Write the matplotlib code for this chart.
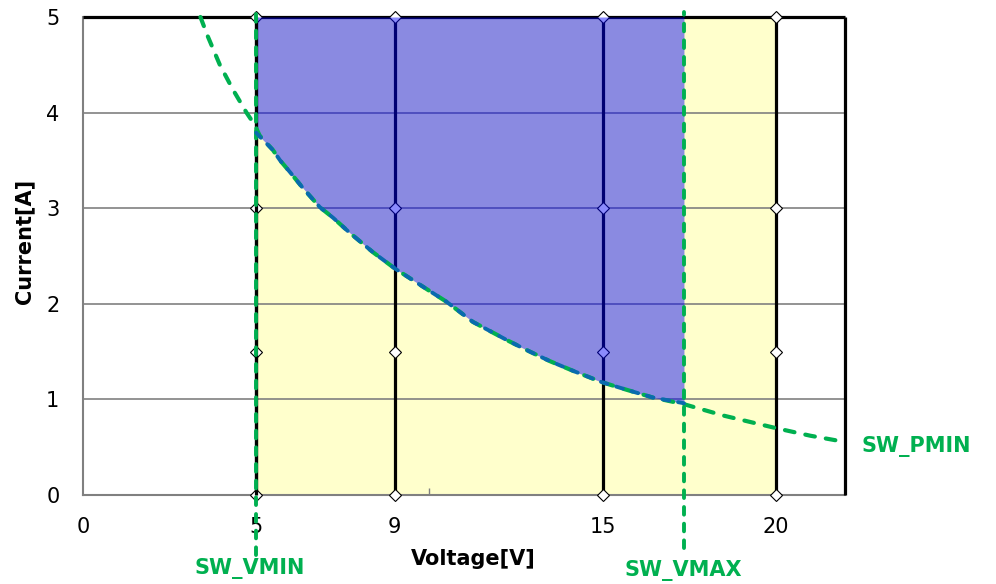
import matplotlib
matplotlib.use("Agg")
import matplotlib.pyplot as plt

# ---- data ----
voltage_ticks = [0, 5, 9, 15, 20]
current_ticks = [0, 1, 2, 3, 4, 5]
x_max = 22
y_max = 5

column_v = [5, 9, 15, 20]            # vertical black lines
marker_i = [0, 1.5, 3, 5]            # diamond marker currents on each line

yellow_v = [5, 20]                   # yellow band

sw_vmin = 5
sw_vmax = 17.35

# boundary of the operating area (blue)
area_v = [5.0, 5.1, 5.48, 5.69, 5.97, 6.35, 6.84, 7.22, 7.71, 8.37, 9.0, 9.81, 10.5,
          11.26, 12.24, 12.9, 13.48, 14.14, 14.98, 15.7, 16.45, 17.35]
area_i = [3.79, 3.75, 3.61, 3.50, 3.38, 3.21, 3.01, 2.90, 2.74, 2.54, 2.37, 2.18, 2.02,
          1.81, 1.62, 1.50, 1.40, 1.30, 1.18, 1.10, 1.02, 0.96]

# SW_PMIN curve (green dashed)
pmin_v = [3.39, 3.6, 3.95, 4.33, 4.72, 4.96, 5.1, 5.48, 5.69, 5.97, 6.35, 6.84, 7.22, 7.71,
          8.37, 9.0, 9.81, 10.5, 11.26, 12.24, 12.9, 13.48, 14.14, 14.98, 15.7, 16.45,
          17.35, 18.5, 20.0, 21.0, 22.0]
pmin_i = [5.0, 4.8, 4.5, 4.24, 4.0, 3.87, 3.76, 3.61, 3.50, 3.38, 3.21, 3.01, 2.90, 2.74,
          2.54, 2.37, 2.18, 2.02, 1.81, 1.62, 1.50, 1.40, 1.30, 1.18, 1.10, 1.02,
          0.95, 0.83, 0.70, 0.62, 0.555]

labels = {"x": "Voltage[V]", "y": "Current[A]",
          "vmin": "SW_VMIN", "vmax": "SW_VMAX", "pmin": "SW_PMIN"}

# ---- style ----
plt.rcParams['font.family'] = ['DejaVu Sans']
plt.rcParams['lines.scale_dashes'] = False
GREEN = '#00B050'
BLUE_DASH = '#0A6AAE'
GRID = '#808080'

fig = plt.figure(figsize=(9.96, 5.84), dpi=100)
ax = fig.add_axes([83/996, 89/584, 762/996, 478/584])
ax.set_xlim(0, x_max)
ax.set_ylim(0, y_max)

# yellow band
ax.axvspan(yellow_v[0], yellow_v[1], ymin=0, ymax=1, color='#FFFFCC', lw=0, zorder=0.5)

# gridlines
for c in current_ticks[1:-1]:
    ax.plot([0, x_max], [c, c], color=GRID, lw=1.2, zorder=1)

# top and right black borders
ax.plot([0, x_max], [y_max, y_max], color='black', lw=2.3, zorder=2, clip_on=False, solid_capstyle='butt')
ax.plot([x_max, x_max], [0, y_max], color='black', lw=2.3, zorder=2, clip_on=False, solid_capstyle='butt')

# vertical black lines with diamond markers
for v in column_v:
    ax.plot([v, v], [0, y_max], color='black', lw=2.3, zorder=2, clip_on=False, solid_capstyle='butt')
    ax.plot([v] * len(marker_i), marker_i, linestyle='none', marker='D', markersize=6.2,
            markerfacecolor='white', markeredgecolor='black', markeredgewidth=0.8,
            zorder=2.2, clip_on=False)

# blue operating area (translucent, over the lines)
ax.fill_between(area_v, area_i, [y_max] * len(area_v), color=(0, 0, 0.99), alpha=0.46, lw=0, zorder=3)
# redraw x=5 line over the area
ax.plot([sw_vmin, sw_vmin], [0, y_max], color='black', lw=2.3, zorder=3.2, clip_on=False, solid_capstyle='butt')

# green dashed curves
ax.plot(pmin_v, pmin_i, color=GREEN, lw=3.0, dashes=(7, 8), dash_capstyle='round',
        zorder=4, clip_on=False)
for v, lo, hi in [(sw_vmin, -0.63, 5.09), (sw_vmax, -0.55, 5.05)]:
    ax.plot([v, v], [lo, hi], color=GREEN, lw=2.8, dashes=(5.5, 6.5), dash_capstyle='round',
            zorder=4.5, clip_on=False)

# blue dashed boundary
ax.plot(area_v, area_i, color=BLUE_DASH, lw=2.8, dashes=(5, 6.5), dash_capstyle='round', zorder=5)

# spines
for s in ['top', 'right']:
    ax.spines[s].set_visible(False)
for s in ['left', 'bottom']:
    ax.spines[s].set_color(GRID)
    ax.spines[s].set_linewidth(1.5)
    ax.spines[s].set_zorder(1.5)

ax.set_xticks(voltage_ticks)
ax.set_yticks(current_ticks)
ax.set_xticks([10], minor=True)
ax.tick_params(axis='both', which='major', length=0, labelsize=15, colors='black')
ax.tick_params(axis='x', which='major', pad=16)
ax.tick_params(axis='y', which='major', pad=17)
ax.tick_params(axis='x', which='minor', direction='in', length=5, width=1, color=GRID)

ax.set_xlabel(labels["x"], fontsize=15, fontweight='bold')
ax.set_ylabel(labels["y"], fontsize=15, fontweight='bold')
ax.xaxis.set_label_coords(0.512, -0.112)
ax.yaxis.set_label_coords(-0.064, 0.53)

ax.text(4.82, -0.77, labels["vmin"], color=GREEN, fontsize=15, fontweight='bold',
        ha='center', va='center', clip_on=False)
ax.text(17.32, -0.79, labels["vmax"], color=GREEN, fontsize=15, fontweight='bold',
        ha='center', va='center', clip_on=False)
ax.text(22.48, 0.51, labels["pmin"], color=GREEN, fontsize=15, fontweight='bold',
        ha='left', va='center', clip_on=False)

fig.savefig('out.png', dpi=100)
